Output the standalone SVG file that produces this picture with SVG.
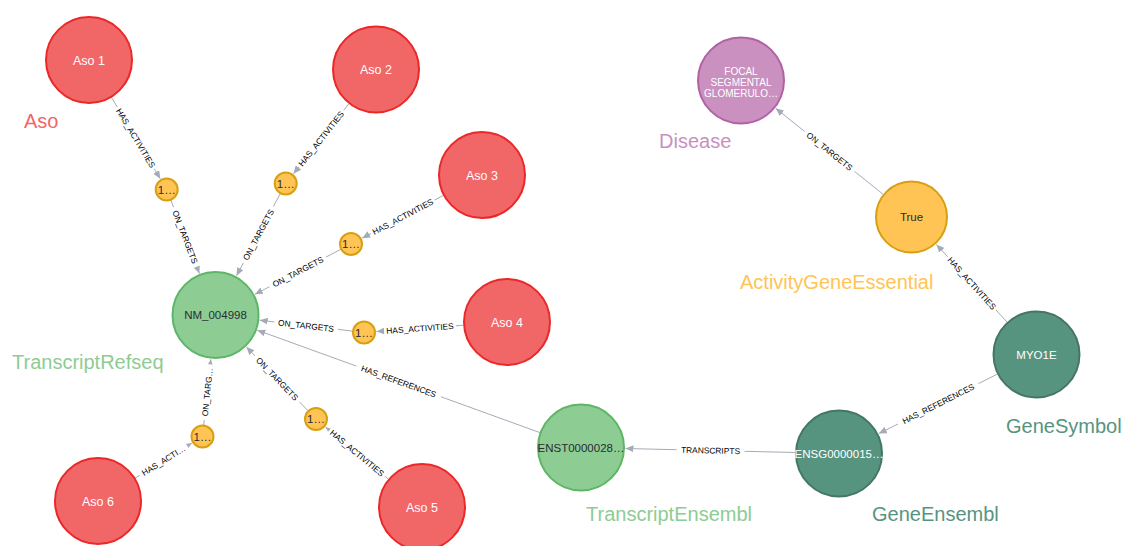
<svg xmlns="http://www.w3.org/2000/svg" width="1123" height="546" viewBox="0 0 1123 546">
<style>
.bg{fill:#ffffff}
.e line{stroke:#A5ABB6;stroke-width:1;fill:none}
.lb{fill:#ffffff}
.el{font-family:"Liberation Sans",Arial,sans-serif;font-size:8.4px;fill:#000000;text-anchor:middle}
.nt{font-family:"Liberation Sans",Arial,sans-serif;font-size:11.5px;text-anchor:middle}
.nt.big{font-size:12.5px}
.nt.sm{font-size:10px}
.aso circle{fill:#F16667;stroke:#EB2728;stroke-width:2}
.tr circle{fill:#8DCC93;stroke:#5DB665;stroke-width:2}
.ge circle{fill:#569480;stroke:#447666;stroke-width:2}
.di circle{fill:#C990C0;stroke:#B261A5;stroke-width:2}
.ac circle{fill:#FFC454;stroke:#D7A013;stroke-width:2}
.w{fill:#FFFFFF}
.d{fill:#2A2C34}
.cat{font-family:"Liberation Sans",Arial,sans-serif;font-size:20px}
</style>
<defs>
<marker id="ah" viewBox="0 0 10 10" refX="10" refY="5" markerWidth="8" markerHeight="7" markerUnits="userSpaceOnUse" orient="auto" preserveAspectRatio="none">
<path d="M0,0 L10,5 L0,10 z" fill="#A5ABB6"/>
</marker>
</defs>
<rect class="bg" x="0" y="0" width="1123" height="546"/>
<g id="connectors">
<g class="e"><line x1="111.4" y1="97.3" x2="160.3" y2="178.8" marker-end="url(#ah)"/><g transform="translate(135.8,138) rotate(59)"><rect class="lb" x="-36" y="-5" width="72" height="10"/><text class="el" y="3">HAS_ACTIVITIES</text></g></g>
<g class="e"><line x1="170.9" y1="200.2" x2="199.4" y2="273.5" marker-end="url(#ah)"/><g transform="translate(185.1,236.9) rotate(68.75)"><rect class="lb" x="-32" y="-5" width="64" height="10"/><text class="el" y="3">ON_TARGETS</text></g></g>
<g class="e"><line x1="349" y1="103.6" x2="293.5" y2="173.7" marker-end="url(#ah)"/><g transform="translate(321.2,138.6) rotate(-51.6)"><rect class="lb" x="-36" y="-5" width="72" height="10"/><text class="el" y="3">HAS_ACTIVITIES</text></g></g>
<g class="e"><line x1="280.3" y1="193.6" x2="236.5" y2="275.75" marker-end="url(#ah)"/><g transform="translate(258.4,234.7) rotate(-61.9)"><rect class="lb" x="-32" y="-5" width="64" height="10"/><text class="el" y="3">ON_TARGETS</text></g></g>
<g class="e"><line x1="443.5" y1="195.3" x2="362.1" y2="238.2" marker-end="url(#ah)"/><g transform="translate(402.8,216.7) rotate(-27.8)"><rect class="lb" x="-36" y="-5" width="72" height="10"/><text class="el" y="3">HAS_ACTIVITIES</text></g></g>
<g class="e"><line x1="340.8" y1="249.3" x2="254.9" y2="294.35" marker-end="url(#ah)"/><g transform="translate(297.9,271.8) rotate(-27.65)"><rect class="lb" x="-32" y="-5" width="64" height="10"/><text class="el" y="3">ON_TARGETS</text></g></g>
<g class="e"><line x1="463.6" y1="325.2" x2="376.5" y2="331.6" marker-end="url(#ah)"/><g transform="translate(420,328.4) rotate(-4.2)"><rect class="lb" x="-36" y="-5" width="72" height="10"/><text class="el" y="3">HAS_ACTIVITIES</text></g></g>
<g class="e"><line x1="352.6" y1="331.15" x2="259.7" y2="320.2" marker-end="url(#ah)"/><g transform="translate(306.1,325.7) rotate(6.7)"><rect class="lb" x="-32" y="-5" width="64" height="10"/><text class="el" y="3">ON_TARGETS</text></g></g>
<g class="e"><line x1="388.5" y1="479.2" x2="325.6" y2="427" marker-end="url(#ah)"/><g transform="translate(357.1,453.1) rotate(39.7)"><rect class="lb" x="-36" y="-5" width="72" height="10"/><text class="el" y="3">HAS_ACTIVITIES</text></g></g>
<g class="e"><line x1="308" y1="410.7" x2="246.4" y2="347" marker-end="url(#ah)"/><g transform="translate(277.2,378.9) rotate(46)"><rect class="lb" x="-32" y="-5" width="64" height="10"/><text class="el" y="3">ON_TARGETS</text></g></g>
<g class="e"><line x1="135" y1="478.15" x2="191.9" y2="443.1" marker-end="url(#ah)"/><g transform="translate(163.5,460.6) rotate(-31.7)"><rect class="lb" x="-28" y="-5" width="56" height="10"/><text class="el" y="3">HAS_ACTI…</text></g></g>
<g class="e"><line x1="203.7" y1="425.1" x2="210.8" y2="359.2" marker-end="url(#ah)"/><g transform="translate(207.3,392.2) rotate(-83.9)"><rect class="lb" x="-28" y="-5" width="56" height="10"/><text class="el" y="3">ON_TARG…</text></g></g>
<g class="e"><line x1="540.1" y1="432.7" x2="257.3" y2="330.2" marker-end="url(#ah)"/><g transform="translate(398.7,381.4) rotate(19.93)"><rect class="lb" x="-45" y="-5" width="90" height="10"/><text class="el" y="3">HAS_REFERENCES</text></g></g>
<g class="e"><line x1="795.5" y1="452.5" x2="625.5" y2="448.5" marker-end="url(#ah)"/><g transform="translate(710.5,450.5) rotate(1.33)"><rect class="lb" x="-34" y="-5" width="68" height="10"/><text class="el" y="3">TRANSCRIPTS</text></g></g>
<g class="e"><line x1="997.6" y1="374" x2="878.8" y2="433.6" marker-end="url(#ah)"/><g transform="translate(938.2,403.8) rotate(-26.6)"><rect class="lb" x="-45" y="-5" width="90" height="10"/><text class="el" y="3">HAS_REFERENCES</text></g></g>
<g class="e"><line x1="1007.2" y1="322.3" x2="936.4" y2="244.4" marker-end="url(#ah)"/><g transform="translate(971.8,283.3) rotate(47.7)"><rect class="lb" x="-36" y="-5" width="72" height="10"/><text class="el" y="3">HAS_ACTIVITIES</text></g></g>
<g class="e"><line x1="883.4" y1="194.5" x2="775.7" y2="108.3" marker-end="url(#ah)"/><g transform="translate(829.6,151.4) rotate(38.7)"><rect class="lb" x="-32" y="-5" width="64" height="10"/><text class="el" y="3">ON_TARGETS</text></g></g>
</g>
<g id="aso1" class="aso"><circle cx="89" cy="60" r="43"/><text class="nt big w" x="89" y="64.5">Aso 1</text></g>
<g id="aso2" class="aso"><circle cx="376" cy="69.5" r="43"/><text class="nt big w" x="376" y="74">Aso 2</text></g>
<g id="aso3" class="aso"><circle cx="482" cy="175" r="43"/><text class="nt big w" x="482" y="179.5">Aso 3</text></g>
<g id="aso4" class="aso"><circle cx="507" cy="322" r="43"/><text class="nt big w" x="507" y="326.5">Aso 4</text></g>
<g id="aso5" class="aso"><circle cx="422" cy="507" r="43"/><text class="nt big w" x="422" y="511.5">Aso 5</text></g>
<g id="aso6" class="aso"><circle cx="98" cy="501" r="43"/><text class="nt big w" x="98" y="505.5">Aso 6</text></g>
<g id="act1" class="ac"><circle cx="166.7" cy="189.5" r="11"/><text class="nt d" x="166.7" y="193.5">1…</text></g>
<g id="act2" class="ac"><circle cx="285.7" cy="183.5" r="11"/><text class="nt d" x="285.7" y="187.5">1…</text></g>
<g id="act3" class="ac"><circle cx="351" cy="244" r="11"/><text class="nt d" x="351" y="248">1…</text></g>
<g id="act4" class="ac"><circle cx="364" cy="332.5" r="11"/><text class="nt d" x="364" y="336.5">1…</text></g>
<g id="act5" class="ac"><circle cx="316" cy="419" r="11"/><text class="nt d" x="316" y="423">1…</text></g>
<g id="act6" class="ac"><circle cx="202.5" cy="436.5" r="11"/><text class="nt d" x="202.5" y="440.5">1…</text></g>
<g id="nm004998" class="tr"><circle cx="215.5" cy="315" r="43"/><text class="nt d" x="215.5" y="319">NM_004998</text></g>
<g id="enst" class="tr"><circle cx="581" cy="447.5" r="43"/><text class="nt d" x="581" y="451.5">ENST0000028…</text></g>
<g id="ensg" class="ge"><circle cx="839" cy="453.5" r="43"/><text class="nt w" x="839" y="457.5">ENSG0000015…</text></g>
<g id="myo1e" class="ge"><circle cx="1036.5" cy="354.5" r="43"/><text class="nt w" x="1036.5" y="358.5">MYO1E</text></g>
<g id="true" class="ac"><circle cx="911.5" cy="217" r="35.5"/><text class="nt d" x="911.5" y="221">True</text></g>
<g id="disease" class="di"><circle cx="741" cy="80.5" r="43"/><text class="nt sm w" x="741"><tspan x="741" y="75">FOCAL</tspan><tspan x="741" y="86">SEGMENTAL</tspan><tspan x="741" y="96.5">GLOMERULO…</tspan></text></g>
<g id="captions">
<text class="cat" x="24" y="127.6" fill="#F16667">Aso</text>
<text class="cat" x="659" y="147.6" fill="#C990C0">Disease</text>
<text class="cat" x="740" y="289" fill="#FFC454">ActivityGeneEssential</text>
<text class="cat" x="12" y="369" fill="#8DCC93">TranscriptRefseq</text>
<text class="cat" x="1006" y="432.5" fill="#569480">GeneSymbol</text>
<text class="cat" x="586" y="521" fill="#8DCC93">TranscriptEnsembl</text>
<text class="cat" x="872" y="521" fill="#569480">GeneEnsembl</text>
</g>
</svg>
